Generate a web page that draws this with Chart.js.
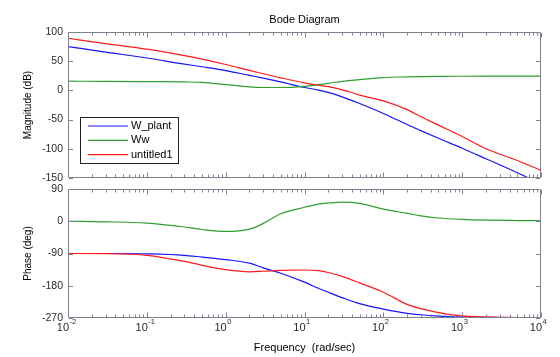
<!DOCTYPE html>
<html><head><meta charset="utf-8">
<script src="https://cdn.jsdelivr.net/npm/chart.js@4.4.1/dist/chart.umd.min.js"></script>
<style>
html,body{margin:0;padding:0;background:#fff;}
#wrap{position:relative;width:560px;height:357px;background:#fff;}
#wrap canvas{position:absolute;left:0;top:0;}
</style></head><body>
<div id="wrap"><canvas id="mag" width="560" height="357"></canvas><canvas id="ph" width="560" height="357"></canvas></div>
<script>
// ---- data ----
const frequencies = [0.01, 0.03, 0.1, 0.3, 0.5, 1, 2, 3, 5, 10, 15, 20, 30, 50, 100, 200, 300, 500, 1000, 2000, 5000, 10000];
const seriesNames = ['W_plant', 'Ww', 'untitled1'];
const seriesColors = ['#1414ff', '#2f9f2f', '#ff1a1a'];
const magWplant = [75, 65.5, 55.5, 45, 40.5, 34, 25.7, 21, 14.5, 5, 0.5, -3.5, -11, -22.5, -39.5, -58.5, -69, -82, -99, -117, -141, -160];
const magWw = [15.8, 15.5, 15, 14.5, 13.8, 10, 6, 5, 5, 7, 9.8, 12, 15.5, 18.5, 22, 23.2, 23.7, 24, 24.2, 24.3, 24.3, 24.3];
const magUntitled1 = [89.3, 80, 70.6, 59.5, 53.5, 44.4, 34.2, 28.5, 21.5, 12.8, 8.8, 6.5, 1, -8, -18, -33, -45, -59.5, -79, -100, -120, -137];
const phaseWplant = [-90, -90, -91, -95, -100, -107, -117, -130, -145, -170, -187, -198, -213, -230, -245, -257, -261, -264.5, -267, -268, -269, -269.5];
const phaseWw = [0, -1.5, -5, -16, -23, -28.5, -22, -6, 21, 39, 48, 51, 53.5, 50, 34, 22, 15, 9, 5, 3, 2, 1.5];
const phaseUntitled1 = [-90, -90.5, -95, -112, -123, -135, -141, -139.5, -137, -136, -138, -143, -154, -172, -198, -232, -244, -255, -264, -267, -269, -269.5];
const magTicks = [100, 50, 0, -50, -100, -150];
const phaseTicks = [90, 0, -90, -180, -270];
const freqTicks = [0.01, 0.1, 1, 10, 100, 1000, 10000];
const freqTickBase = '10';
const freqTickExponents = ['-2', '-1', '0', '1', '2', '3', '4'];
const titleText = 'Bode Diagram';
const magLabel = 'Magnitude (dB)';
const phaseLabel = 'Phase (deg)';
const freqLabel = 'Frequency  (rad/sec)';

// ---- styling ----
const FONT = "'Liberation Sans', Arial, Helvetica, sans-serif";
const AXIS_COLOR = '#80808e';
const TEXT_COLOR = '#2a2a2a';
const LINE_W = 1.2;

function makeDatasets(arrs) {
  return arrs.map((arr, i) => ({
    label: seriesNames[i],
    data: frequencies.map((f, j) => ({x: f, y: arr[j]})),
    borderColor: seriesColors[i],
    backgroundColor: seriesColors[i],
    borderWidth: LINE_W,
    pointRadius: 0,
    fill: false,
    cubicInterpolationMode: 'monotone',
    clip: 0,
    order: 2 - i
  }));
}

const boxPlugin = {
  id: 'matlabBox',
  afterDraw(chart) {
    const {ctx, chartArea: a, scales} = chart;
    const x = scales.x, y = scales.y;
    ctx.save();
    ctx.strokeStyle = AXIS_COLOR;
    ctx.lineWidth = 1;
    ctx.beginPath();
    ctx.rect(a.left + 0.5, a.top + 0.5, a.right - a.left - 1, a.bottom - a.top - 1);
    ctx.stroke();
    ctx.beginPath();
    for (let d = -2; d <= 4; d++) {
      for (let k = 1; k <= 9; k++) {
        if (d === 4 && k > 1) break;
        const v = k * Math.pow(10, d);
        const px = Math.round(x.getPixelForValue(v)) + 0.5;
        const len = k === 1 ? 4.5 : 2.5;
        ctx.moveTo(px, a.bottom - 1); ctx.lineTo(px, a.bottom - 1 - len);
        ctx.moveTo(px, a.top + 1); ctx.lineTo(px, a.top + 1 + len);
      }
    }
    y.ticks.forEach(t => {
      const py = Math.round(y.getPixelForValue(t.value)) + 0.5;
      ctx.moveTo(a.left + 1, py); ctx.lineTo(a.left + 5, py);
      ctx.moveTo(a.right - 1, py); ctx.lineTo(a.right - 5, py);
    });
    ctx.stroke();
    ctx.restore();
  }
};

const legendPlugin = {
  id: 'boxLegend',
  afterDraw(chart) {
    const {ctx, chartArea: a} = chart;
    const L = a.left + 12, T = a.top + 85, W = 98, H = 46;
    ctx.save();
    ctx.fillStyle = '#fff';
    ctx.fillRect(L, T, W, H);
    ctx.strokeStyle = '#222';
    ctx.lineWidth = 1;
    ctx.strokeRect(L + 0.5, T + 0.5, W, H);
    ctx.font = '11px ' + FONT;
    ctx.textBaseline = 'middle';
    ctx.textAlign = 'left';
    chart.data.datasets.forEach((ds, i) => {
      const yy = T + 9 + i * 14.3;
      ctx.strokeStyle = ds.borderColor;
      ctx.lineWidth = LINE_W;
      ctx.beginPath();
      ctx.moveTo(L + 8, yy); ctx.lineTo(L + 48, yy);
      ctx.stroke();
      ctx.fillStyle = '#000';
      ctx.fillText(ds.label, L + 51, yy);
    });
    ctx.restore();
  }
};

const xLabelPlugin = {
  id: 'expLabels',
  afterDraw(chart) {
    const {ctx} = chart;
    const x = chart.scales.x;
    const a = chart.chartArea;
    ctx.save();
    ctx.fillStyle = TEXT_COLOR;
    ctx.textBaseline = 'alphabetic';
    freqTicks.forEach((v, i) => {
      const px = x.getPixelForValue(v);
      ctx.font = '11px ' + FONT;
      ctx.textAlign = 'right';
      ctx.fillText(freqTickBase, px + 1, a.bottom + 13);
      ctx.font = '7.5px ' + FONT;
      ctx.textAlign = 'left';
      ctx.fillText(freqTickExponents[i], px + 1.5, a.bottom + 6);
    });
    ctx.restore();
  }
};

function yScale(ticksArr, label) {
  return {
    type: 'linear',
    position: 'left',
    min: ticksArr[ticksArr.length - 1],
    max: ticksArr[0],
    afterBuildTicks: s => { s.ticks = ticksArr.map(v => ({value: v})); },
    afterFit: s => { s.width = 68; },
    grid: {display: false, drawTicks: false},
    border: {display: false},
    ticks: {color: TEXT_COLOR, font: {family: FONT, size: 10.5}, padding: 5, autoSkip: false},
    title: {display: true, text: label, color: '#000', font: {family: FONT, size: 10}, padding: {top: 22, bottom: 0}}
  };
}

Chart.defaults.animation = false;

new Chart(document.getElementById('mag'), {
  type: 'line',
  data: {datasets: makeDatasets([magWplant, magWw, magUntitled1])},
  options: {
    responsive: false,
    devicePixelRatio: 1,
    animation: false,
    events: [],
    layout: {padding: {left: 0, right: 19, top: 0, bottom: 179}},
    plugins: {legend: {display: false}, tooltip: {enabled: false}, title: {display: false}},
    scales: {
      x: {
        type: 'logarithmic', position: 'top', min: 0.01, max: 10000,
        afterFit: s => { s.height = 32; },
        grid: {display: false, drawTicks: false}, border: {display: false},
        ticks: {display: false},
        title: {display: true, text: titleText, color: '#000', font: {family: FONT, size: 11}, padding: {top: 13, bottom: 0}}
      },
      y: yScale(magTicks, magLabel)
    }
  },
  plugins: [boxPlugin, legendPlugin]
});

new Chart(document.getElementById('ph'), {
  type: 'line',
  data: {datasets: makeDatasets([phaseWplant, phaseWw, phaseUntitled1])},
  options: {
    responsive: false,
    devicePixelRatio: 1,
    animation: false,
    events: [],
    layout: {padding: {left: 0, right: 19, top: 189, bottom: 0}},
    plugins: {legend: {display: false}, tooltip: {enabled: false}, title: {display: false}},
    scales: {
      x: {
        type: 'logarithmic', position: 'bottom', min: 0.01, max: 10000,
        afterFit: s => { s.height = 39; },
        grid: {display: false, drawTicks: false}, border: {display: false},
        ticks: {display: false},
        title: {display: true, text: freqLabel, color: '#000', font: {family: FONT, size: 11}, padding: {top: 0, bottom: 2.5}}
      },
      y: yScale(phaseTicks, phaseLabel)
    }
  },
  plugins: [boxPlugin, xLabelPlugin]
});
</script>
</body></html>
